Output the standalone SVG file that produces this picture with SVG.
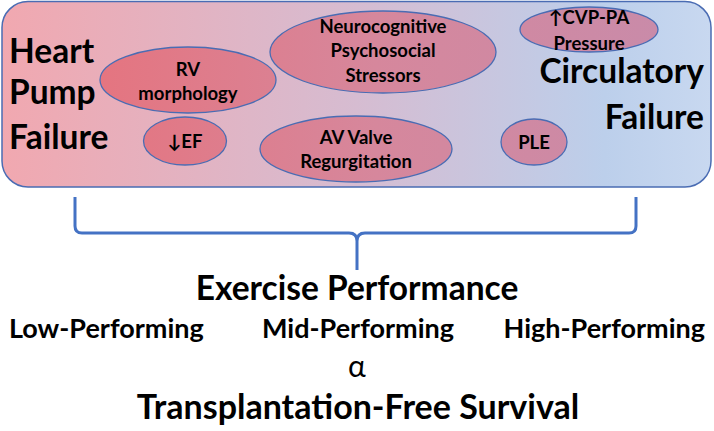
<svg xmlns="http://www.w3.org/2000/svg" width="714" height="431" viewBox="0 0 714 431">
<defs>
<linearGradient id="bg" gradientUnits="userSpaceOnUse" x1="2" y1="0" x2="711" y2="0">
<stop offset="0" stop-color="#f1a8b0"/>
<stop offset="0.5" stop-color="#d6bcd1"/>
<stop offset="0.85" stop-color="#bccfeb"/>
<stop offset="1" stop-color="#c8d8f0"/>
</linearGradient>
<linearGradient id="el" gradientUnits="userSpaceOnUse" x1="90" y1="0" x2="660" y2="0">
<stop offset="0" stop-color="#e5747f"/>
<stop offset="0.5" stop-color="#d6879c"/>
<stop offset="1" stop-color="#c98ba9"/>
</linearGradient>
<style>
.t{font-family:Lato,"Open Sans","Liberation Sans",sans-serif;font-weight:700;fill:#000}
.big{font-size:33.5px}
.sm{font-size:18.5px;text-anchor:middle}
.mid{text-anchor:middle}
.ar{font-family:Lato,"DejaVu Sans",sans-serif}
.node ellipse{fill:url(#el);stroke:#4a6cb3;stroke-width:1.3}
</style>
</defs>
<rect x="2" y="1.5" width="709" height="185.5" rx="26" ry="26" fill="url(#bg)" stroke="#4a6cb3" stroke-width="1.5"/>
<g id="heart-pump-failure">
<text class="t big" x="9" y="63">Heart</text>
<text class="t big" x="9" y="104">Pump</text>
<text class="t big" x="9" y="149">Failure</text>
</g>
<g id="circulatory-failure">
<text class="t big" x="704" y="83" text-anchor="end">Circulatory</text>
<text class="t big" x="704" y="129" text-anchor="end">Failure</text>
</g>
<g id="rv" class="node">
<ellipse cx="188" cy="80" rx="88" ry="33"/>
<text class="t sm" x="188" y="76">RV</text>
<text class="t sm" x="188" y="100">morphology</text>
</g>
<g id="ef" class="node">
<ellipse cx="185" cy="141" rx="41.5" ry="24"/>
<text class="t sm" x="185" y="148">↓EF</text>
</g>
<g id="neuro" class="node">
<ellipse cx="383" cy="52" rx="113" ry="41"/>
<text class="t sm" x="383" y="33">Neurocognitive</text>
<text class="t sm" x="383" y="57">Psychosocial</text>
<text class="t sm" x="383" y="82">Stressors</text>
</g>
<g id="av" class="node">
<ellipse cx="356" cy="149" rx="96" ry="33"/>
<text class="t sm" x="356" y="144">AV Valve</text>
<text class="t sm" x="356" y="168">Regurgitation</text>
</g>
<g id="cvp" class="node">
<ellipse cx="589" cy="29.5" rx="69" ry="22.5"/>
<text class="t sm" x="589" y="24">↑CVP-PA</text>
<text class="t sm" x="589" y="50">Pressure</text>
</g>
<g id="ple" class="node">
<ellipse cx="534" cy="142" rx="33" ry="23"/>
<text class="t sm" x="534" y="149">PLE</text>
</g>
<g id="connectors">
<path d="M75,197 V226 Q75,233 82,233 H349 Q357,233 357,241 V270 M357,241 Q357,233 365,233 H629 Q636,233 636,226 V197" fill="none" stroke="#4472c4" stroke-width="3"/>
</g>
<g id="exercise">
<text class="t mid" x="357" y="300" font-size="33.5">Exercise Performance</text>
<text class="t" x="9" y="338" font-size="27">Low-Performing</text>
<text class="t mid" x="358" y="338" font-size="27">Mid-Performing</text>
<text class="t" x="705" y="338" font-size="27" text-anchor="end">High-Performing</text>
<text x="357" y="377" font-size="30" text-anchor="middle" font-family="Lato,'Open Sans','Liberation Sans',sans-serif">α</text>
<text class="t mid" x="358" y="419" font-size="34">Transplantation-Free Survival</text>
</g>
</svg>
